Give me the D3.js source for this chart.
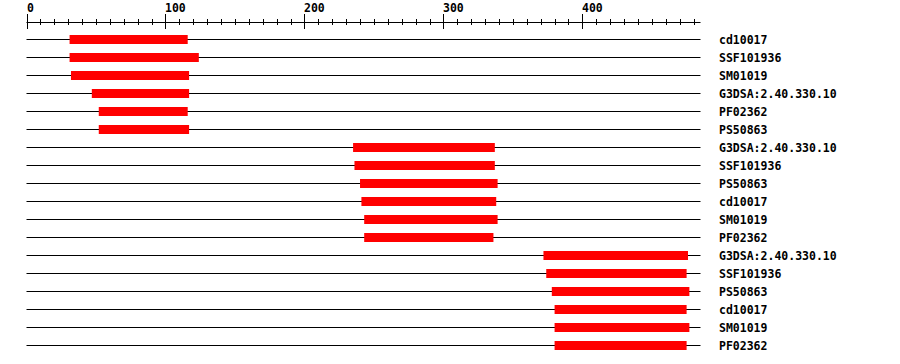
<!DOCTYPE html>
<head>
    <style>
        body { margin: 0; background: #fff; }
        svg { display: block; }
        text { font-family: "DejaVu Sans Mono", monospace; font-weight: bold; font-size: 11.5px; fill: #000; }
    </style>
</head>
<body>
    <script src="https://d3js.org/d3.v7.min.js"></script>
    <script>
        // sequence length and axis ticks
        var seqLength = 485;
        var majorTicks = [0, 100, 200, 300, 400];
        var minorTicks = d3.range(0, 481, 10);

        // one row per hit
        var hitNames = ['cd10017', 'SSF101936', 'SM01019', 'G3DSA:2.40.330.10', 'PF02362', 'PS50863',
                        'G3DSA:2.40.330.10', 'SSF101936', 'PS50863', 'cd10017', 'SM01019', 'PF02362',
                        'G3DSA:2.40.330.10', 'SSF101936', 'PS50863', 'cd10017', 'SM01019', 'PF02362'];
        var hitStart = [31, 31, 32, 47, 52, 52,
                        235, 236, 240, 241, 243, 243,
                        372, 374, 378, 380, 380, 380];
        var hitEnd   = [116, 124, 117, 117, 116, 117,
                        337, 337, 339, 338, 339, 336,
                        476, 475, 477, 475, 477, 475];

        var svg = d3.select('body')
                    .append('svg')
                    .attr('width', 900)
                    .attr('height', 364);

        var x = d3.scaleLinear().domain([0, seqLength]).range([26.5, 700.5]);
        var y = d3.scalePoint().domain(d3.range(hitNames.length)).range([39.5, 345.5]);
        var axisY = 22.5;

        // axis
        var axis = svg.append('g');
        axis.append('line')
            .attr('x1', x(0)).attr('x2', x(seqLength))
            .attr('y1', axisY).attr('y2', axisY)
            .attr('stroke', '#000');
        axis.selectAll('.minor')
            .data(minorTicks)
            .enter()
            .append('line')
            .attr('x1', (d) => Math.round(x(d)) + 0.5)
            .attr('x2', (d) => Math.round(x(d)) + 0.5)
            .attr('y1', 19).attr('y2', 25)
            .attr('stroke', '#000');
        axis.selectAll('.major')
            .data(majorTicks)
            .enter()
            .append('line')
            .attr('x1', (d) => Math.round(x(d)) + 0.5)
            .attr('x2', (d) => Math.round(x(d)) + 0.5)
            .attr('y1', 14).attr('y2', 29)
            .attr('stroke', '#000');
        axis.selectAll('text')
            .data(majorTicks)
            .enter()
            .append('text')
            .attr('x', (d) => Math.round(x(d)))
            .attr('y', 11.5)
            .text((d) => d);

        // rows
        var rows = svg.selectAll('.row')
                      .data(hitNames)
                      .enter()
                      .append('g');
        rows.append('line')
            .attr('x1', x(0)).attr('x2', x(seqLength))
            .attr('y1', (d, i) => y(i)).attr('y2', (d, i) => y(i))
            .attr('stroke', '#000');
        rows.append('rect')
            .attr('x', (d, i) => x(hitStart[i]))
            .attr('y', (d, i) => y(i) - 4.5)
            .attr('width', (d, i) => x(hitEnd[i]) - x(hitStart[i]))
            .attr('height', 9)
            .attr('fill', '#ff0000');
        rows.append('text')
            .attr('x', 719)
            .attr('y', (d, i) => y(i) + 4)
            .text((d) => d);
    </script>
</body>
